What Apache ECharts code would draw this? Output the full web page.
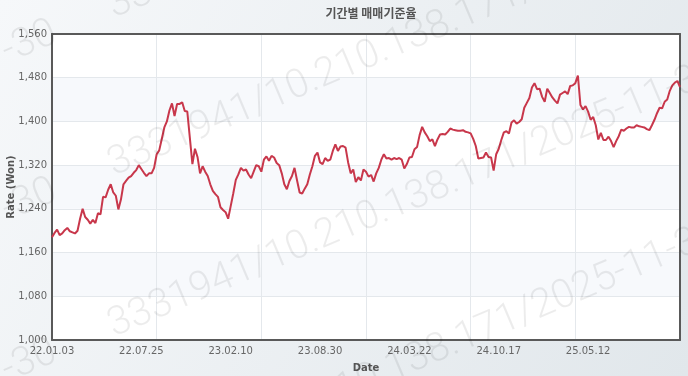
<!DOCTYPE html>
<html>
<head>
<meta charset="utf-8">
<script src="https://cdn.jsdelivr.net/npm/echarts@6/dist/echarts.min.js"></script>
<style>
html,body{margin:0;padding:0;background:#eef2f5;}
#chart{width:688px;height:376px;}
</style>
</head>
<body>
<div id="chart"></div>
<script>
// ---- data ----
const titleText = '기간별 매매기준율';
const tickLabels = ['22.01.03','22.07.25','23.02.10','23.08.30','24.03.22','24.10.17','25.05.12'];
const labelStep = 35;   // data points between two date labels
const gridStep = 41;    // data points between two vertical grid lines
const yTicks = {min: 1000, max: 1560, step: 80};
const rates = [
  1188,1196,1202,1192,1195,1201,1205,1199,1197,1195,1200,1222,1240,1225,1220,1213,1220,1214,1232,1230,1262,1261,1275,1285,1270,1264,1239,1257,1285,1291,1297,1300,1306,1311,1320,1313,1306,1300,1305,1305,1315,
  1340,1347,1368,1389,1400,1420,1433,1410,1432,1432,1435,1419,1418,1370,1322,1350,1335,1305,1318,1308,1300,1285,1273,1267,1262,1243,1238,1234,1222,1245,1268,1293,1303,1315,1310,1312,1303,1296,1308,1320,1318,
  1308,1330,1336,1328,1337,1334,1324,1320,1305,1285,1276,1291,1300,1315,1292,1270,1268,1277,1285,1303,1318,1337,1343,1325,1322,1333,1328,1330,1346,1358,1346,1354,1355,1352,1325,1305,1312,1289,1298,1292,1312,
  1308,1299,1302,1290,1305,1315,1330,1340,1332,1333,1330,1333,1331,1333,1330,1314,1322,1334,1335,1349,1353,1375,1390,1380,1373,1364,1367,1355,1367,1376,1377,1376,1381,1387,1385,1384,1383,1383,1384,1381,1380,
  1378,1368,1355,1332,1333,1334,1343,1335,1334,1310,1340,1350,1366,1380,1382,1378,1398,1402,1396,1399,1404,1425,1434,1443,1462,1470,1459,1460,1445,1436,1460,1452,1444,1438,1433,1449,1452,1455,1450,1465,1466,
  1470,1484,1430,1422,1428,1418,1403,1408,1393,1367,1379,1366,1366,1372,1364,1353,1364,1373,1385,1383,1387,1390,1389,1389,1393,1391,1390,1389,1386,1384,1393,1403,1415,1425,1424,1436,1440,1456,1466,1471,1474,
  1463
];
const watermarkText = '3331941/10.210.138.171/2025-11-30';

// ---- chart ----
const chart = echarts.init(document.getElementById('chart'), null, {renderer: 'canvas'});
const lastIndex = rates.length - 1;

const wmAngle = 23 * Math.PI / 180;
const wmLines = [27, 185, 346, 508];
const wmGraphics = [];
wmLines.forEach(function (y) {
  const common = {fontSize: 40, fontFamily: 'Roboto', fontWeight: 300, fill: 'rgba(0,0,0,0.075)', verticalAlign: 'bottom'};
  wmGraphics.push({type: 'text', x: 118, y: y, rotation: wmAngle, z: 100, silent: true,
    style: Object.assign({text: watermarkText, align: 'left'}, common)});
  wmGraphics.push({type: 'text', x: 63, y: y + 55 * Math.tan(wmAngle), rotation: wmAngle, z: 100, silent: true,
    style: Object.assign({text: watermarkText, align: 'right'}, common)});
});

const axisFont = {color: '#666', fontSize: 10, fontFamily: 'DejaVu Sans'};
const nameFont = {color: '#555', fontSize: 10, fontWeight: 'bold', fontFamily: 'DejaVu Sans'};
const frameLine = {show: true, onZero: false, lineStyle: {color: '#595959', width: 2}};
const gridLine = {show: true, lineStyle: {color: '#e4e8ec', width: 1}};

chart.setOption({
  animation: false,
  backgroundColor: {type: 'linear', x: 0, y: 0, x2: 1, y2: 1,
    colorStops: [{offset: 0, color: '#f6f8fa'}, {offset: 1, color: '#e1e7eb'}]},
  title: {text: titleText, left: 366, top: 2, textAlign: 'center',
    textStyle: {fontSize: 12, fontWeight: 'bold', color: '#555', fontFamily: 'Noto Sans CJK KR'}},
  grid: {left: 52, right: 8, top: 34, bottom: 36, show: true, backgroundColor: '#fff', borderWidth: 0,
    containLabel: false, outerBoundsMode: 'none'},
  xAxis: [
    {type: 'value', min: 0, max: lastIndex, interval: labelStep, position: 'bottom',
      name: 'Date', nameLocation: 'middle', nameGap: 23, nameMoveOverlap: false, nameTextStyle: nameFont,
      axisLine: frameLine, axisTick: {show: false}, splitLine: {show: false},
      axisLabel: Object.assign({margin: 6, showMaxLabel: false,
        formatter: function (v) { return (v % labelStep === 0 && tickLabels[v / labelStep]) || ''; }}, axisFont)},
    {type: 'value', min: 0, max: gridStep * 6, interval: gridStep, position: 'top',
      axisLine: frameLine, axisTick: {show: false}, axisLabel: {show: false},
      splitLine: gridLine}
  ],
  yAxis: [
    {type: 'value', min: yTicks.min, max: yTicks.max, interval: yTicks.step, position: 'left',
      name: 'Rate (Won)', nameLocation: 'middle', nameGap: 36, nameMoveOverlap: false, nameTextStyle: nameFont,
      axisLine: frameLine, axisTick: {show: false},
      axisLabel: Object.assign({margin: 5, formatter: function (v) { return v.toLocaleString('en-US'); }}, axisFont),
      splitLine: gridLine,
      splitArea: {show: true, areaStyle: {color: ['#ffffff', '#f7f9fc']}}},
    {type: 'value', min: yTicks.min, max: yTicks.max, interval: yTicks.step, position: 'right',
      axisLine: frameLine, axisTick: {show: false}, axisLabel: {show: false},
      splitLine: {show: false}, splitArea: {show: false}}
  ],
  series: [{type: 'line', xAxisIndex: 0, yAxisIndex: 0, data: rates.map(function (v, i) { return [i, v]; }),
    showSymbol: false, symbol: 'none',
    lineStyle: {color: '#c8374b', width: 2}, itemStyle: {color: '#c8374b'}}],
  graphic: wmGraphics
});
</script>
</body>
</html>
